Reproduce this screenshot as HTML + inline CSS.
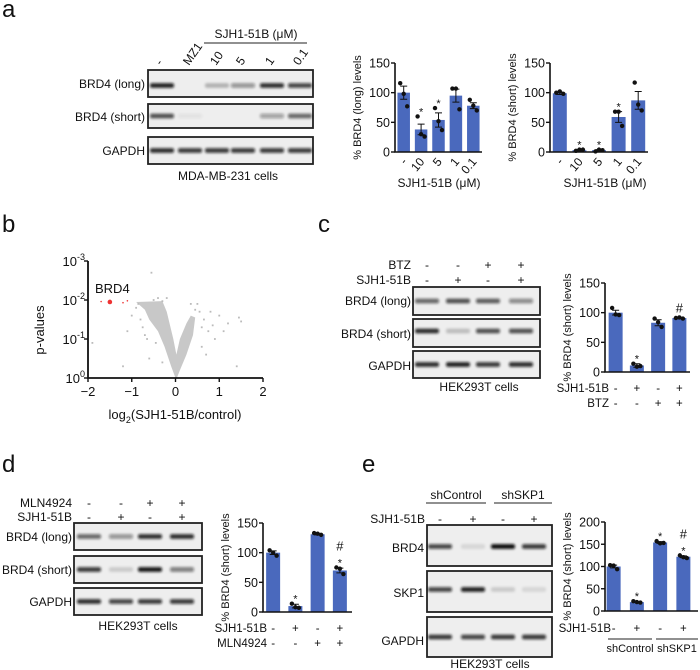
<!DOCTYPE html>
<html><head><meta charset="utf-8"><style>
html,body{margin:0;padding:0;background:#fff;}
svg{display:block;font-family:"Liberation Sans",Arial,sans-serif;}
</style></head><body>
<svg id="fig" width="700" height="670" viewBox="0 0 700 670" xmlns="http://www.w3.org/2000/svg">
<defs>
<filter id="blur" x="-20%" y="-100%" width="140%" height="300%"><feGaussianBlur stdDeviation="1.4"/></filter>
</defs>
<g font-size="24" fill="#111">
<text x="2" y="17">a</text>
<text x="2" y="232">b</text>
<text x="318" y="232">c</text>
<text x="2" y="472">d</text>
<text x="362" y="472">e</text>
</g>
</svg>
<script>
// ---------- Data ----------
const aCats = ['-','10','5','1','0.1'];
const aLongVals = [100,38,54,95,78];
const aLongErr = [11,9,12,11,5];
const aLongDots = [[116,98,77],[60,30,26],[74,52,37],[107,107,72],[88,78,70]];
const aLongSig = ['','*','*','',''];
const aShortVals = [99,3,3,59,87];
const aShortErr = [2,1,1,9,15];
const aShortDots = [[100,102,98],[2,4,4],[1,4,3],[68,68,44],[117,80,70]];
const aShortSig = ['','*','*','*',''];
const yTicks150 = [0,50,100,150];
const yTicks200 = [0,50,100,150,200];

const cVals = [100,11,83,91];
const cErr = [4,3,5,1];
const cDots = [[108,97,96],[14,9,10],[90,84,76],[91,92,90]];
const cSig = ['','*','','#'];
const cRow1 = ['-','+','-','+'];
const cRow2 = ['-','-','+','+'];

const dVals = [100,10,131,70];
const dErr = [3,3,1,4];
const dDots = [[104,100,95],[14,8,7],[133,132,130],[75,73,64]];
const dSig = ['','*','','#\n*'];
const dRow1 = ['-','+','-','+'];
const dRow2 = ['-','-','+','+'];

const eVals = [100,20,154,122];
const eErr = [3,1,2,2];
const eDots = [[103,102,94],[22,20,19],[157,152,153],[125,121,119]];
const eSig = ['','*','*','#\n*'];
const eRow1 = ['-','+','-','+'];

// volcano: envelope of dense cloud (log2 FC, -log10 p)
const volcFC = [0.0,-0.1,-0.25,-0.4,-0.6,-0.7,-0.9,-0.3,-0.2,-0.05,0.02,0.1,0.25,0.35,0.45,0.4,0.25,0.1,0.03];
const volcNLP = [0.0,0.3,0.8,1.2,1.5,1.75,1.95,1.97,1.7,1.0,0.6,1.0,1.4,1.6,1.55,1.1,0.6,0.2,0.0];
const scatFC = [-0.9,-0.8,-1.1,-0.7,-0.5,-0.4,-0.3,-0.2,0.6,0.8,1.0,1.2,1.45,0.9,0.7,1.4,-1.9,-1.2,-0.6,0.5,1.5,-0.55,-0.3,0.35,-1.0,-0.75,0.55,0.65,0.75,-0.85,1.1,0.45,-0.65,-0.45,0.6,0.85];
const scatNLP = [1.8,1.5,1.2,1.1,2.0,2.05,1.97,2.05,1.3,1.7,1.6,1.4,1.55,1.0,0.6,0.3,0.9,0.3,0.5,1.9,1.45,2.7,0.4,1.9,1.6,1.3,1.7,1.5,1.2,1.9,1.2,1.75,1.0,0.9,0.8,1.35];
const redFC = [-1.5,-1.7,-1.2,-1.1];
const redNLP = [1.95,1.96,1.93,1.98];
const volcXTicks = [-2,-1,0,1,2];
const volcYTicks = [0,1,2,3];

// blots: band intensity per lane (0..1)
const aBlotLong = [0.9,0,0.25,0.4,0.85,0.75];
const aBlotShort = [0.7,0.05,0,0,0.35,0.6];
const aBlotGapdh = [0.85,0.8,0.8,0.8,0.8,0.8];
const cBlotLong = [0.6,0.7,0.65,0.45];
const cBlotShort = [0.85,0.2,0.7,0.7];
const cBlotGapdh = [0.85,0.9,0.8,0.85];
const dBlotLong = [0.6,0.4,0.85,0.85];
const dBlotShort = [0.8,0.15,0.95,0.5];
const dBlotGapdh = [0.85,0.75,0.8,0.8];
const eBlotBrd4 = [0.75,0.1,1.0,0.8];
const eBlotSkp1 = [0.75,0.9,0.15,0.1];
const eBlotGapdh = [0.8,0.75,0.8,0.8];

// ---------- Helpers ----------
const NS='http://www.w3.org/2000/svg';
const svg=document.getElementById('fig');
const FS=12;
const FS2=11.5;
function mk(tag,attrs,parent,text){const e=document.createElementNS(NS,tag);for(const k in attrs)e.setAttribute(k,attrs[k]);if(text!==undefined)e.textContent=text;(parent||svg).appendChild(e);return e;}
function grp(name){const g=mk('g',{});


return g;}
const BLUE='#4a69bd';

function barChart(name,o,vals,errs,dots,sig,ticks){
  const g=grp(name);
  const ys=v=>o.y0-(v/o.ymax)*(o.y0-o.ytop);
  const n=vals.length, bw=(o.x1-o.x0)/n;
  const xs=i=>o.x0+bw*(i+0.5)+(o.shift||0);
  vals.forEach((v,i)=>{
    const r=mk('rect',{x:xs(i)-o.w/2,y:ys(v),width:o.w,height:o.y0-ys(v),fill:BLUE},g);
    
    
    const e=errs[i];
    mk('path',{d:`M${xs(i)},${ys(v+e)}V${ys(v-e)}M${xs(i)-3.5},${ys(v+e)}h7M${xs(i)-3.5},${ys(v-e)}h7`,stroke:'#111','stroke-width':1,fill:'none'},g);
    dots[i].forEach((d,j)=>{
      const c=mk('circle',{cx:xs(i)+(j-1)*3.5,cy:ys(d),r:2.2,fill:'#111'},g);
      
      
    });
    if(sig[i]){const parts=sig[i].split('\n');const top=Math.max(v+errs[i],...dots[i]);
      parts.reverse().forEach((s,k)=>{mk('text',{x:xs(i),y:ys(top)-5-k*12+(s==='*'?4:0),'text-anchor':'middle','font-size':s==='*'?11:13,fill:'#111'},g,s);});}
  });
  mk('path',{d:`M${o.x0},${o.ytop}V${o.y0}H${o.x1}`,stroke:'#111','stroke-width':1.6,fill:'none'},g);
  ticks.forEach(t=>{mk('path',{d:`M${o.x0-4},${ys(t)}H${o.x0}`,stroke:'#111','stroke-width':1.4},g);
    mk('text',{x:o.x0-5,y:ys(t)+4.5,'text-anchor':'end','font-size':12.5,fill:'#111'},g,t);});
  const yt=mk('text',{transform:`translate(${o.x0-34},${(o.y0+o.ytop)/2}) rotate(-90)`,'text-anchor':'middle','font-size':11,fill:'#111'},g,o.ytitle);
  
  
  return {g,xs};
}

function blot(name,x0,x1,y0,y1,lanes,vals,opts){
  const g=grp(name);
  mk('rect',{x:x0,y:y0,width:x1-x0,height:y1-y0,fill:'#eeeeee',stroke:'#222','stroke-width':1.8},g);
  const cy=(y0+y1)/2+(opts&&opts.dy||0);
  vals.forEach((v,i)=>{ if(v<=0)return;
    const e=mk('rect',{x:lanes[i]-12,y:cy-2.4,width:24,height:4.8,rx:2,fill:'#111','fill-opacity':v,filter:'url(#blur)'},g);
    
    
  });
  return g;
}
function label(t,x,y,anchor,size,parent){return mk('text',{x,y,'text-anchor':anchor||'end','font-size':size||FS,fill:'#111'},parent||svg,t);}

// ---------- Panel a ----------
(function(){
  const g=grp('panel-a-blot');
  const lanes=[162,190,217,243,272,300];
  blot('blot-brd4-long',148,313,70,97,lanes,aBlotLong,{dy:2});
  blot('blot-brd4-short',148,313,104,128,lanes,aBlotShort);
  blot('blot-gapdh',148,313,137,164,lanes,aBlotGapdh);
  label('BRD4 (long)',145,88,'end',FS,g);
  label('BRD4 (short)',145,121,'end',FS,g);
  label('GAPDH',145,155,'end',FS,g);
  const lab=['-','MZ1','10','5','1','0.1'];
  lab.forEach((t,i)=>mk('text',{transform:`translate(${lanes[i]-1},66) rotate(-55)`,'font-size':FS,fill:'#111'},g,t));
  label('SJH1-51B (μM)',256,38,'middle',FS,g);
  mk('line',{x1:204,x2:307,y1:43,y2:43,stroke:'#222','stroke-width':1},g);
  label('MDA-MB-231 cells',228,180,'middle',FS,g);
})();
(function(){
  const c=barChart('chart-a-long',{x0:395,x1:482,y0:152,ytop:63,ymax:150,w:12.5,ytitle:'% BRD4 (long) levels'},aLongVals,aLongErr,aLongDots,aLongSig,yTicks150);
  aCats.forEach((t,i)=>mk('text',{transform:`translate(${c.xs(i)+4},162) rotate(-50)`,'text-anchor':'end','font-size':FS,fill:'#111'},c.g,t));
  label('SJH1-51B (μM)',439,187,'middle',FS,c.g);
  const c2=barChart('chart-a-short',{x0:550,x1:648,y0:152,ytop:63,ymax:150,w:14,ytitle:'% BRD4 (short) levels'},aShortVals,aShortErr,aShortDots,aShortSig,yTicks150);
  aCats.forEach((t,i)=>mk('text',{transform:`translate(${c2.xs(i)+4},162) rotate(-50)`,'text-anchor':'end','font-size':FS,fill:'#111'},c2.g,t));
  label('SJH1-51B (μM)',605,187,'middle',FS,c2.g);
})();

// ---------- Panel b ----------
(function(){
  const g=grp('volcano-plot');
  const X0=88,X1=263,Y0=378,YT=261;
  const xs=v=>X0+(v+2)/4*(X1-X0);
  const ys=v=>Y0-v/3*(Y0-YT);
  const pts=volcFC.map((f,i)=>xs(f)+','+ys(volcNLP[i])).join(' ');
  const cl=mk('polygon',{points:pts,fill:'#c8c8c8'},g);
  
  
  scatFC.forEach((f,i)=>{const r=mk('rect',{x:xs(f)-0.9,y:ys(scatNLP[i])-0.9,width:1.8,height:1.8,fill:'#bbb'},g);
    
    });
  redFC.forEach((f,i)=>{const c=mk('circle',{cx:xs(f),cy:ys(redNLP[i]),r:i===0?2.3:0.8,fill:'#e33'},g);
    
    });
  label('BRD4',95,293,'start',13,g);
  mk('path',{d:`M${X0},${YT}V${Y0}H${X1}`,stroke:'#111','stroke-width':1.8,fill:'none'},g);
  volcXTicks.forEach(t=>{mk('path',{d:`M${xs(t)},${Y0}v4`,stroke:'#111','stroke-width':1.4},g);label(String(t).replace('-','−'),xs(t),396,'middle',13,g);});
  volcYTicks.forEach(t=>{mk('path',{d:`M${X0-4},${ys(t)}H${X0}`,stroke:'#111','stroke-width':1.4},g);
    const tx=mk('text',{x:X0-3,y:ys(t)+5,'text-anchor':'end','font-size':13,fill:'#111'},g,'10');
    mk('tspan',{dy:-6,'font-size':9},tx,t===0?'0':'-'+t);});
  mk('text',{transform:`translate(44,330) rotate(-90)`,'text-anchor':'middle','font-size':13,fill:'#111'},g,'p-values');
  const xt=mk('text',{x:175,y:419,'text-anchor':'middle','font-size':13,fill:'#111'},g,'log');
  mk('tspan',{dy:4,'font-size':9},xt,'2');
  mk('tspan',{dy:-4},xt,'(SJH1-51B/control)');
})();

// ---------- Panel c ----------
(function(){
  const g=grp('panel-c-blot');
  const lanes=[427,458,488,521];
  blot('blot-brd4-long',413,540,287,315,lanes,cBlotLong);
  blot('blot-brd4-short',413,540,319,347,lanes,cBlotShort,{dy:-2});
  blot('blot-gapdh',413,540,351,378,lanes,cBlotGapdh);
  label('BRD4 (long)',411,305,'end',FS,g);
  label('BRD4 (short)',411,338,'end',FS,g);
  label('GAPDH',411,370,'end',FS,g);
  label('BTZ',411,269,'end',FS,g);
  label('SJH1-51B',411,284,'end',FS,g);
  cRow2.forEach((t,i)=>label(t,lanes[i],269,'middle',FS,g));
  cRow1.forEach((t,i)=>label(t,lanes[i],284,'middle',FS,g));
  label('HEK293T cells',479,391,'middle',FS,g);
  const c=barChart('chart-c',{x0:605,x1:690,y0:372,ytop:283,ymax:150,w:14,ytitle:'% BRD4 (short) levels'},cVals,cErr,cDots,cSig,yTicks150);
  label('SJH1-51B',609,392,'end',FS2,c.g);label('BTZ',609,407,'end',FS2,c.g);
  cRow1.forEach((t,i)=>label(t,c.xs(i),392,'middle',FS2,c.g));
  cRow2.forEach((t,i)=>label(t,c.xs(i),407,'middle',FS2,c.g));
})();

// ---------- Panel d ----------
(function(){
  const g=grp('panel-d-blot');
  const lanes=[89,121,150,182];
  blot('blot-brd4-long',74,202,523,550,lanes,dBlotLong);
  blot('blot-brd4-short',74,202,556,583,lanes,dBlotShort);
  blot('blot-gapdh',74,202,588,615,lanes,dBlotGapdh);
  label('BRD4 (long)',72,541,'end',FS,g);
  label('BRD4 (short)',72,574,'end',FS,g);
  label('GAPDH',72,606,'end',FS,g);
  label('MLN4924',72,507,'end',FS,g);
  label('SJH1-51B',72,521,'end',FS,g);
  dRow2.forEach((t,i)=>label(t,lanes[i],507,'middle',FS,g));
  dRow1.forEach((t,i)=>label(t,lanes[i],521,'middle',FS,g));
  label('HEK293T cells',138,630,'middle',FS,g);
  const c=barChart('chart-d',{x0:263,x1:352,y0:612,ytop:523,ymax:150,w:14,shift:-1,ytitle:'% BRD4 (short) levels'},dVals,dErr,dDots,dSig,yTicks150);
  label('SJH1-51B',267,632,'end',FS2,c.g);label('MLN4924',267,647,'end',FS2,c.g);
  dRow1.forEach((t,i)=>label(t,c.xs(i),632,'middle',FS2,c.g));
  dRow2.forEach((t,i)=>label(t,c.xs(i),647,'middle',FS2,c.g));
})();

// ---------- Panel e ----------
(function(){
  const g=grp('panel-e-blot');
  const lanes=[440,473,503,534];
  blot('blot-brd4',427,552,525,566,lanes,eBlotBrd4,{dy:1});
  blot('blot-skp1',427,552,571,612,lanes,eBlotSkp1,{dy:-2});
  blot('blot-gapdh',427,552,617,657,lanes,eBlotGapdh);
  label('BRD4',424,552,'end',FS,g);
  label('SKP1',424,597,'end',FS,g);
  label('GAPDH',424,645,'end',FS,g);
  label('shControl',456,499,'middle',FS,g);
  label('shSKP1',523,499,'middle',FS,g);
  mk('line',{x1:426,x2:486,y1:503,y2:503,stroke:'#222'},g);
  mk('line',{x1:494,x2:552,y1:503,y2:503,stroke:'#222'},g);
  label('SJH1-51B',425,523,'end',FS,g);
  eRow1.forEach((t,i)=>label(t,lanes[i],523,'middle',FS,g));
  label('HEK293T cells',490,668,'middle',FS,g);
  const c=barChart('chart-e',{x0:605,x1:698,y0:611,ytop:522,ymax:200,w:14,shift:-3,ytitle:'% BRD4 (short) levels'},eVals,eErr,eDots,eSig,yTicks200);
  label('SJH1-51B',611,632,'end',FS2,c.g);
  eRow1.forEach((t,i)=>label(t,c.xs(i),632,'middle',FS2,c.g));
  mk('line',{x1:608,x2:652,y1:639,y2:639,stroke:'#222'},c.g);
  mk('line',{x1:656,x2:698,y1:639,y2:639,stroke:'#222'},c.g);
  label('shControl',630,652,'middle',11,c.g);
  label('shSKP1',677,652,'middle',11,c.g);
})();
</script>
</body></html>
